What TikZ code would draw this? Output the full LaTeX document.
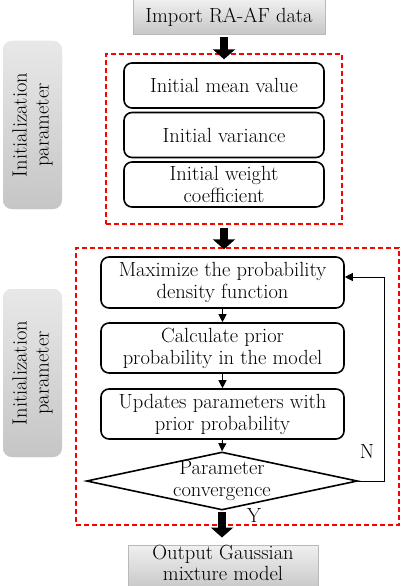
\documentclass[tikz,border=0pt]{standalone}
\usetikzlibrary{shapes.geometric,arrows.meta}
\begin{document}
\begin{tikzpicture}[x=1pt,y=-1pt,
  txt/.style={font=\fontsize{20.5}{22}\selectfont, align=center, inner sep=0pt},
  graybox/.style={txt, draw=gray!55, line width=1pt, top color=gray!12, bottom color=gray!45, minimum height=40pt},
  sidebox/.style={txt, rotate=90, rounded corners=9pt, fill=gray!35, top color=gray!18, bottom color=gray!45, minimum width=168pt, minimum height=59pt, text=black},
  redbox/.style={draw=red, dash pattern=on 5pt off 3pt, line width=1.4pt, inner sep=0pt},
  stepbox/.style={txt, draw=black, line width=1.6pt, rounded corners=8pt},
  bigarrow/.style={line width=8pt, -{Triangle[width=22pt,length=10pt]}},
  smallarrow/.style={line width=0.9pt, -{Triangle[width=8pt,length=8pt]}}
]
\useasboundingbox (0,0) rectangle (401,586);
% top
\node[graybox, minimum width=192pt, minimum height=36pt] (imp) at (229,17) {Import RA-AF data};
% side labels
\node[sidebox] (side1) at (32.5,125) {Initialization\\parameter};
\node[sidebox] (side2) at (32.5,373) {Initialization\\parameter};
% red boxes
\node[redbox, minimum width=236pt, minimum height=170pt] (rb1) at (224,139) {};
\node[redbox, minimum width=323pt, minimum height=277pt] (rb2) at (237.5,386.5) {};
% init boxes
\node[stepbox, minimum width=200pt, minimum height=45pt] (mean) at (224,85.5) {Initial mean value};
\node[stepbox, minimum width=200pt, minimum height=45pt] (var) at (224,135) {Initial variance};
\node[stepbox, minimum width=200pt, minimum height=45pt] (wgt) at (224,184.5) {Initial weight\\coefficient};
% loop boxes
\node[stepbox, minimum width=243pt, minimum height=51pt] (max) at (222.5,282.5) {Maximize the probability\\density function};
\node[stepbox, minimum width=243pt, minimum height=50pt] (calc) at (222.5,348) {Calculate prior\\probability in the model};
\node[stepbox, minimum width=243pt, minimum height=50pt] (upd) at (222.5,414) {Updates parameters with\\prior probability};
\node[txt, shape=diamond, draw=black, line width=1.6pt, aspect=4.67, minimum width=271pt, minimum height=58pt] (dia) at (222,481) {};
\node[txt] (diatxt) at (dia.center) {Parameter\\convergence};
% output
\node[graybox, minimum width=190pt, minimum height=46pt] (out) at (223,568) {};
\node[txt, font=\fontsize{20.5}{20.5}\selectfont] (outtxt) at (223,563) {Output Gaussian\\mixture model};
% arrows
\draw[bigarrow, shorten <=2pt, shorten >=-6pt] (imp.south -| rb1.north) -- (rb1.north);
\draw[bigarrow, shorten <=3pt, shorten >=-2pt] (rb1.south) -- (rb1.south |- rb2.north);
\draw[bigarrow, shorten <=1pt, shorten >=7pt] (dia.south) -- (dia.south |- out.north);
\draw[smallarrow] (max.south) -- (calc.north);
\draw[smallarrow] (calc.south) -- (upd.north);
\draw[smallarrow] (upd.south) -- (dia.north);
\coordinate (fb) at (384,277);
\draw[smallarrow] (dia.east) -| (fb) -- (max.east |- fb);
\node[txt] (nlab) at (367,451) {N};
\node[txt] (ylab) at (254,515) {Y};
\end{tikzpicture}
\end{document}
